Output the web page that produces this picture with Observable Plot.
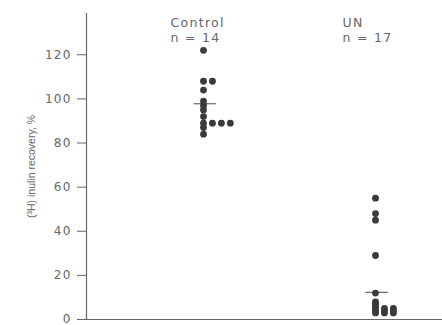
<!DOCTYPE html>
<html><head><meta charset="utf-8">
<script src="https://cdn.jsdelivr.net/npm/d3@7"></script>
<script src="https://cdn.jsdelivr.net/npm/@observablehq/plot@0.6"></script>
<style>
body{margin:0;background:#fff;}
svg{font-family:"DejaVu Sans",sans-serif;}
</style></head><body><div id="chart"></div>
<script>
const groups = ["Control", "UN"];
const groupN = ["n = 14", "n = 17"];
const controlValues = [122, 108, 108, 104, 99, 97, 95, 92, 89, 89, 89, 89, 87, 84];
const unValues = [55, 48, 45, 29, 12, 8, 7, 6, 5, 5, 5, 4, 4, 4, 3, 3, 3];
const groupMeans = [97.8, 12.3];
const yTicks = [0, 20, 40, 60, 80, 100, 120];
const yLabel = "(\u00B3H) inulin recovery, %";

const step = 0.052;
const points = [];
[controlValues, unValues].forEach((vals, gi) => {
  const seen = new Map();
  vals.forEach(v => {
    const k = seen.get(v) || 0;
    seen.set(v, k + 1);
    points.push({group: groups[gi], gx: gi + 1 + k * step, value: v});
  });
});
const meanRows = groups.map((g, i) => ({group: g, x1: i + 1 - 0.055, x2: i + 1 + 0.075, value: groupMeans[i]}));
const headRows = groups.map((g, i) => ({gx: i + 1, text: g + "\n" + groupN[i]}));

const ink = "#3a3a3a";
const grey = "#666666";

const chart = Plot.plot({
  width: 442, height: 325,
  marginLeft: 86, marginRight: 0, marginTop: 13, marginBottom: 6,
  x: {domain: [0.3198, 2.3895], axis: null},
  y: {domain: [0, 138.7], ticks: yTicks},
  marks: [
    Plot.axisY({ticks: yTicks, tickSize: 9, tickPadding: 6, label: null, fontSize: 12, color: grey, stroke: grey}),
    Plot.ruleX([0.3198], {stroke: grey, strokeWidth: 1.2}),
    Plot.ruleY([0], {stroke: grey, strokeWidth: 1.2}),
    Plot.text([yLabel], {frameAnchor: "left", textAnchor: "middle", rotate: -90, dx: -55, dy: 0, fontSize: 10.5, fill: grey, fontFamily: "Liberation Sans"}),
    Plot.ruleY(meanRows, {x1: "x1", x2: "x2", y: "value", stroke: grey, strokeWidth: 1.2}),
    Plot.dot(points, {x: "gx", y: "value", r: 3.4, fill: ink, stroke: "none"}),
    Plot.text(headRows, {x: "gx", frameAnchor: "top", text: "text", textAnchor: "start", dx: -33, dy: 3, lineHeight: 1.2, fontSize: 12.5, fill: grey, lineAnchor: "top"})
  ]
});
d3.select(chart).selectAll("g[aria-label='y-axis tick label'] text").style("letter-spacing", "1.2px");
d3.select(chart).selectAll("g[aria-label='text'] text").filter(function(){ return !/rotate/.test(this.getAttribute("transform") || ""); }).style("letter-spacing", "1.3px");
document.getElementById("chart").appendChild(chart);
</script></body></html>
